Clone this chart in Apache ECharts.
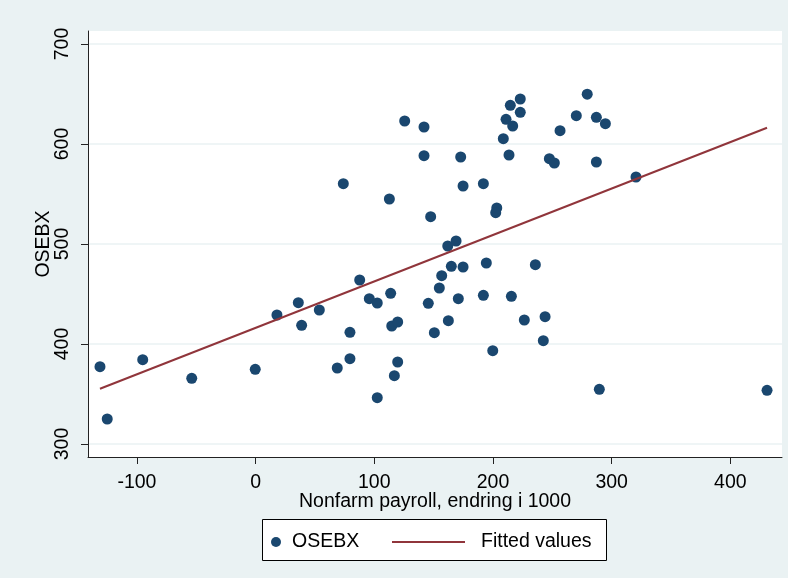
<!DOCTYPE html>
<html>
<head>
<meta charset="utf-8">
<script src="https://cdn.jsdelivr.net/npm/echarts@6/dist/echarts.min.js"></script>
<style>
html,body{margin:0;padding:0;background:#eaf2f3;}
#c{width:788px;height:578px;}
</style>
</head>
<body>
<div id="c"></div>
<script>
// Nonfarm payroll change (thousands)
const payroll = [-131.1,-125.0,-95.1,-53.8,-0.3,18.0,36.0,38.8,53.7,68.8,73.9,79.5,79.5,87.7,95.8,102.5,102.5,112.7,113.8,114.7,116.9,119.7,119.7,125.6,141.9,141.9,145.5,147.5,150.6,154.8,156.8,161.9,162.4,164.9,168.9,170.8,172.8,174.8,174.8,191.9,191.9,194.4,199.8,203.2,202.3,208.7,211.0,213.5,214.6,215.5,216.6,223.0,223.0,226.4,235.7,242.4,243.9,247.5,251.7,256.5,270.2,279.4,287.1,287.1,289.6,294.7,320.5,430.9];
// OSEBX index
const osebx = [377.3,325,384.3,365.7,374.7,429,441.3,418.7,434,376,560.3,385.3,411.7,464,445.3,441,346.3,545,450.7,418,368.3,422,382,623,617,588.3,440.7,527.3,411.3,456,468.3,498,423.3,477.7,503,445.3,587,558,477,560.3,448.7,481,393.3,536,531.3,605.3,624.7,589,638.7,447.7,618,631.7,645,424,479.3,403.3,427.3,585.3,581,613.3,628.3,649.8,626.7,582,354.7,620.3,567,353.7];
// Fitted values (line endpoints)
const fitX = [-131.1, 430.9];
const fitY = [355.3, 616.3];
// Tick labels
const xTicks = [-100, 0, 100, 200, 300, 400];
const yTicks = [300, 400, 500, 600, 700];

const FONT = '"Liberation Sans", Arial, Helvetica, sans-serif';
const FS = 19.5;
const chart = echarts.init(document.getElementById('c'), null, {renderer: 'canvas'});
chart.setOption({
  animation: false,
  backgroundColor: '#eaf2f3',
  textStyle: {fontFamily: FONT, color: '#000'},
  grid: {left: 88, top: 31, right: 6, bottom: 121, show: true, backgroundColor: '#ffffff', borderWidth: 0},
  xAxis: {
    type: 'value', min: -141.2, max: 443.5,
    name: 'Nonfarm payroll, endring i 1000', nameLocation: 'middle', nameGap: 35, nameMoveOverlap: false,
    nameTextStyle: {fontSize: FS, color: '#000', fontFamily: FONT},
    axisLine: {show: true, onZero: false, lineStyle: {color: '#222', width: 1}},
    axisTick: {show: true, length: 7, customValues: xTicks, lineStyle: {color: '#222', width: 1}},
    axisLabel: {customValues: xTicks, fontSize: FS, color: '#000', margin: 16, fontFamily: FONT},
    splitLine: {show: false}
  },
  yAxis: {
    type: 'value', min: 287, max: 713,
    name: 'OSEBX', nameLocation: 'middle', nameGap: 34, nameRotate: 90, nameMoveOverlap: false,
    nameTextStyle: {fontSize: FS, color: '#000', fontFamily: FONT},
    axisLine: {show: true, onZero: false, lineStyle: {color: '#222', width: 1}},
    axisTick: {show: true, length: 7, customValues: yTicks, lineStyle: {color: '#222', width: 1}},
    axisLabel: {customValues: yTicks, rotate: 90, fontSize: FS, color: '#000', margin: 15, fontFamily: FONT},
    splitLine: {show: true, lineStyle: {color: '#eaf2f3', width: 1.5}}
  },
  graphic: [{
    type: 'rect', z: 0, left: 262, top: 519,
    shape: {width: 344, height: 41},
    style: {fill: '#ffffff', stroke: '#000', lineWidth: 1}
  }],
  legend: [{
    z: 10, left: 271, top: 532, padding: 0,
    data: ['OSEBX'], icon: 'circle', itemWidth: 22, itemHeight: 10,
    textStyle: {fontSize: FS, color: '#000', fontFamily: FONT}
  }, {
    z: 10, left: 392, top: 532, padding: 0,
    data: [{name: 'Fitted values', icon: 'rect'}], itemWidth: 73, itemHeight: 2,
    textStyle: {fontSize: FS, color: '#000', fontFamily: FONT, padding: [0, 0, 0, 11]}
  }],
  series: [{
    name: 'OSEBX', type: 'scatter', symbol: 'circle', symbolSize: 11,
    itemStyle: {color: '#1a476f', opacity: 1},
    data: payroll.map((x, i) => [x, osebx[i]]), z: 3
  }, {
    name: 'Fitted values', type: 'line', symbol: 'none', showSymbol: false,
    lineStyle: {color: '#90353b', width: 2}, itemStyle: {color: '#90353b'},
    data: fitX.map((x, i) => [x, fitY[i]]), z: 4
  }]
});
</script>
</body>
</html>
